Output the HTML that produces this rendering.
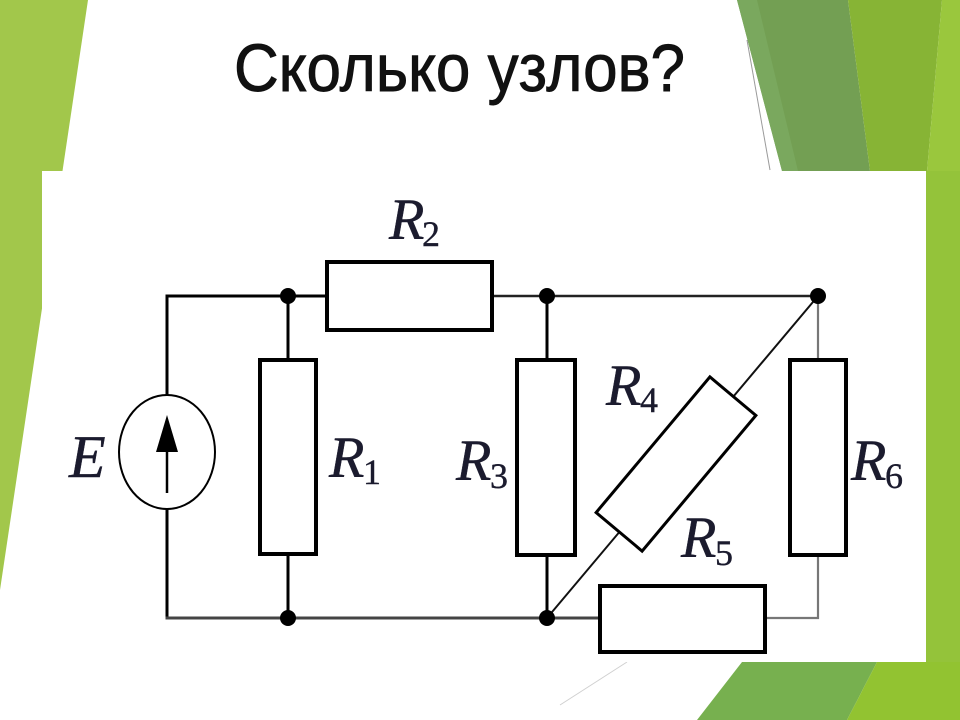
<!DOCTYPE html>
<html>
<head>
<meta charset="utf-8">
<style>
  html, body { margin: 0; padding: 0; background: #ffffff; }
  body { width: 960px; height: 720px; overflow: hidden; }
  svg { display: block; }
</style>
</head>
<body>
<svg width="960" height="720" viewBox="0 0 960 720" xmlns="http://www.w3.org/2000/svg">
  <!-- background -->
  <rect x="0" y="0" width="960" height="720" fill="#ffffff"/>

  <!-- left green -->
  <polygon points="0,0 88,0 0,590" fill="#a2c74b"/>

  <!-- top-right greens -->
  <polygon points="737,0 848,0 870,171 782,171" fill="#739f53"/>
  <polygon points="737,0 757,0 798,171 782,171" fill="#7aa85e"/>
  <polygon points="848,0 942,0 927,171 870,171" fill="#87b435"/>
  <polygon points="942,0 960,0 960,171 927,171" fill="#9ac73d"/>
  <line x1="747" y1="40" x2="770" y2="170" stroke="#9a9a9a" stroke-width="1"/>

  <!-- right strip -->
  <rect x="926" y="171" width="34" height="491" fill="#94c33a"/>

  <!-- bottom greens -->
  <polygon points="742,662 877,662 847,720 697,720" fill="#77b04f"/>
  <polygon points="877,662 960,662 960,720 847,720" fill="#92c331"/>
  <line x1="627" y1="662" x2="560" y2="705" stroke="#d0d0d0" stroke-width="1"/>

  <!-- title -->
  <text x="234" y="91" font-family="'Liberation Sans', 'DejaVu Sans', sans-serif" font-size="67" fill="#111111" stroke="#111111" stroke-width="0.9" textLength="451" lengthAdjust="spacingAndGlyphs">Сколько узлов?</text>

  <!-- white diagram box -->
  <rect x="42" y="171" width="884" height="491" fill="#ffffff"/>

  <!-- wires -->
  <g stroke-linecap="square" fill="none">
    <line x1="167" y1="296" x2="167" y2="396" stroke="#000" stroke-width="3"/>
    <line x1="167" y1="509" x2="167" y2="618" stroke="#000" stroke-width="3"/>
    <line x1="167" y1="296" x2="327" y2="296" stroke="#000" stroke-width="3"/>
    <line x1="492" y1="296" x2="818" y2="296" stroke="#222" stroke-width="2.5"/>
    <line x1="288" y1="296" x2="288" y2="360" stroke="#000" stroke-width="3"/>
    <line x1="288" y1="554" x2="288" y2="618" stroke="#000" stroke-width="3"/>
    <line x1="547" y1="296" x2="547" y2="360" stroke="#000" stroke-width="3"/>
    <line x1="547" y1="555" x2="547" y2="618" stroke="#000" stroke-width="3"/>
    <line x1="167" y1="618" x2="600" y2="618" stroke="#444" stroke-width="3"/>
    <polyline points="765,618 818,618 818,555" stroke="#777" stroke-width="2.2"/>
    <line x1="818" y1="296" x2="818" y2="360" stroke="#777" stroke-width="2.2"/>
    <line x1="547" y1="618" x2="818" y2="296" stroke="#111" stroke-width="2"/>
  </g>

  <!-- resistors -->
  <g fill="#ffffff" stroke="#000" stroke-width="4">
    <rect x="260" y="360" width="56" height="194"/>
    <rect x="517" y="360" width="58" height="195"/>
    <rect x="790" y="360" width="56" height="195"/>
    <rect x="327" y="262" width="165" height="68"/>
    <rect x="600" y="586" width="165" height="66"/>
  </g>
  <rect x="-88.5" y="-30" width="177" height="60" fill="#ffffff" stroke="#000" stroke-width="3"
        transform="translate(676,464) rotate(-50)"/>

  <!-- source -->
  <ellipse cx="167" cy="452" rx="48" ry="57" fill="#ffffff" stroke="#000" stroke-width="2"/>
  <line x1="167" y1="493" x2="167" y2="445" stroke="#000" stroke-width="2.5"/>
  <polygon points="167,415 156,452 178,452" fill="#000"/>

  <!-- nodes -->
  <g fill="#000">
    <circle cx="288" cy="296" r="8"/>
    <circle cx="547" cy="296" r="8"/>
    <circle cx="818" cy="296" r="8"/>
    <circle cx="288" cy="618" r="8"/>
    <circle cx="547" cy="618" r="8"/>
  </g>

  <!-- labels -->
  <g font-family="'Liberation Serif', 'DejaVu Serif', serif" fill="#1b1b2e" stroke="#1b1b2e" stroke-width="0.4">
    <text x="69" y="477" font-size="60" font-style="italic">E</text>

    <text x="329" y="477" font-size="58" font-style="italic">R</text>
    <text x="363" y="484" font-size="36">1</text>

    <text x="389" y="239" font-size="58" font-style="italic">R</text>
    <text x="422" y="246" font-size="36">2</text>

    <text x="456" y="480" font-size="58" font-style="italic">R</text>
    <text x="490" y="488" font-size="36">3</text>

    <text x="606" y="405" font-size="58" font-style="italic">R</text>
    <text x="640" y="412" font-size="36">4</text>

    <text x="681" y="557" font-size="58" font-style="italic">R</text>
    <text x="715" y="565" font-size="36">5</text>

    <text x="851" y="480" font-size="58" font-style="italic">R</text>
    <text x="885" y="488" font-size="36">6</text>
  </g>
</svg>
</body>
</html>
